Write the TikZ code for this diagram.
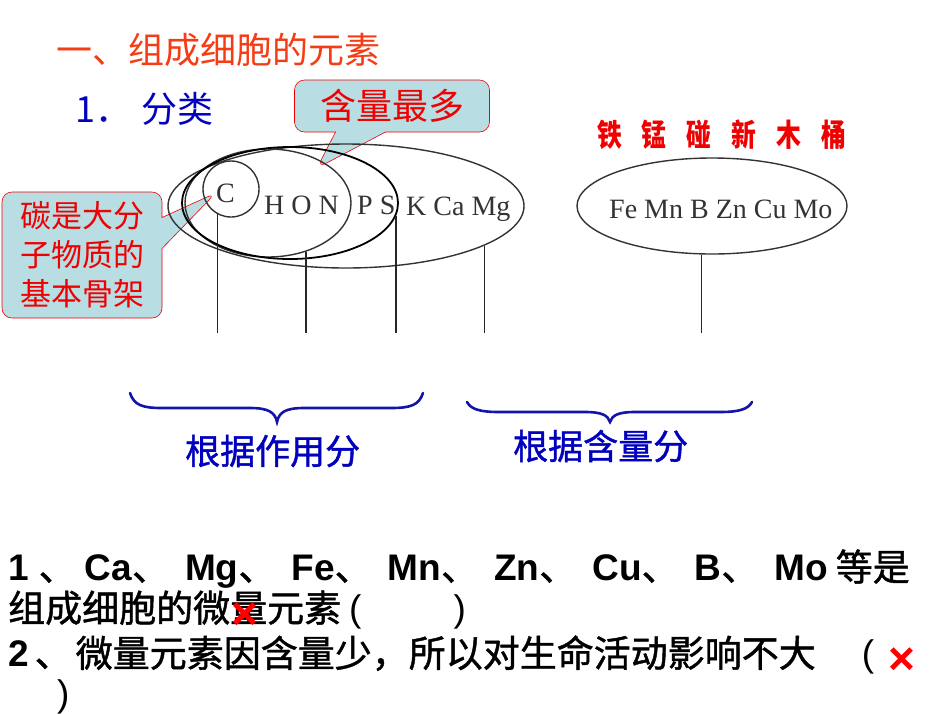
\documentclass[tikz,border=0pt]{standalone}
\usepackage{fontspec}
\setmainfont{Liberation Serif}
\newfontfamily\cjk{Noto Sans CJK SC}
\newfontfamily\cjkh[FakeBold=1.2]{Noto Sans CJK SC}
\newfontfamily\arialf{Liberation Sans}
\usetikzlibrary{shapes.geometric,shapes.callouts,calc}
\definecolor{titleRed}{RGB}{245,60,20}
\definecolor{noteRed}{RGB}{240,0,0}
\definecolor{headBlue}{RGB}{0,0,190}
\definecolor{braceBlue}{RGB}{20,20,170}
\definecolor{tipFill}{RGB}{184,222,228}
\newcommand\fs[2]{\fontsize{#1}{#2}\selectfont}
\newcommand\el[1]{{\arialf\bfseries #1}}
\newcommand\dun{{\cjkh 、}}
\newcommand\gap{\hspace{25pt}}

\begin{document}
\begin{tikzpicture}[x=1pt,y=-1pt,
  ring/.style={ellipse,draw=black!80,line width=1.4pt,inner sep=0pt},
  elt/.style={anchor=base west,inner sep=0pt,text=black!80,font=\fs{28}{28}},
  tip/.style={rectangle callout,fill=tipFill,draw=noteRed,line width=0.6pt,
              rounded corners=10pt,text=noteRed,align=center,inner sep=0pt},
  cn/.style={anchor=west,inner sep=0pt},
  stem/.style={draw=black!85,line width=1.3pt},
  brc/.style={draw=braceBlue,line width=2.6pt,line cap=round},
  cross/.style={inner sep=0pt,text=red,font=\arialf\bfseries\fs{46}{46}}
]
  \useasboundingbox (0,0) rectangle (950,713);
  % headings
  \node[cn,text=titleRed,font=\cjk\fs{36}{36}] (title) at (56,50) {一、组成细胞的元素};
  \node[cn,text=headBlue,font=\cjk\fs{36}{36}] (sub) at (75,109) {1．\hspace{10pt}分类};
  \node[cn,text=noteRed,font=\cjk\bfseries\fs{31}{31}] (mnemo) at (597,135)
    {\scalebox{0.8}[1]{铁\gap 锰\gap 碰\gap 新\gap 木\gap 桶}};
  % callouts
  \node[elt] (eC) at (216,202) {C};
  \coordinate (richPt) at (317,168);
  \node[tip,callout absolute pointer={(eC.west)},callout pointer width=31pt,
        minimum width=160pt,minimum height=126pt,font=\cjk\fs{31}{39}] (noteC) at (82,255)
    {碳是大分\\子物质的\\基本骨架};
  \node[tip,callout absolute pointer={(richPt)},callout pointer width=50pt,
        minimum width=195pt,minimum height=52pt,font=\cjk\fs{36}{36}] (noteMax) at (392,106)
    {含量最多};
  % rings
  \node[ring,minimum width=356pt,minimum height=124pt] (big) at (346,206) {};
  \node[ring,minimum width=166pt,minimum height=108pt] (ellA) at (268,203) {};
  \node[ring,draw=black,line width=1.8pt,minimum width=216pt,minimum height=112pt] (ellB) at (290,203) {};
  \node[ring,circle,minimum size=56pt] (cC) at (231,189) {};
  \node[ring,minimum width=270pt,minimum height=96pt] (trace) at (712,206) {};
  % element symbols
  \node[elt] (eHON) at (264,214) {H O N};
  \node[elt] (ePS) at (357,214) {P S};
  \node[elt] (eKCaMg) at (406,215) {K Ca Mg};
  \node[elt] (eTrace) at (609,218) {Fe Mn B Zn Cu Mo};
  % stems
  \coordinate (foot) at (0,333);
  \draw[stem] (cC.242) -- (cC.242 |- foot);
  \draw[stem] (ellA.-52) -- (ellA.-52 |- foot);
  \draw[stem] (ellB.-7) -- (ellB.-7 |- foot);
  \draw[stem] (big.-16) -- (big.-16 |- foot);
  \draw[stem] (trace.-102) -- (trace.-102 |- foot);
  % braces
  \draw[brc] (130,393) .. controls (134,405) and (142,408) .. (162,408) -- (250,408)
    .. controls (268,408) and (275,412) .. (277,422) .. controls (279,412) and (286,408) .. (304,408)
    -- (391,408) .. controls (411,408) and (419,405) .. (423,393);
  \draw[brc] (467,402) .. controls (471,409) and (479,412) .. (499,412) -- (585,412)
    .. controls (601,412) and (608,415) .. (610,422) .. controls (612,415) and (619,412) .. (635,412)
    -- (720,412) .. controls (740,412) and (748,409) .. (752,402);
  \node[cn,text=headBlue,font=\cjkh\fs{35}{35}] (byRole) at (185,451) {根据作用分};
  \node[cn,text=headBlue,font=\cjkh\fs{35}{35}] (byAmount) at (513,446) {根据含量分};
  % questions
  \node[cn,font=\fs{37}{37}] (q1a) at (8,569)
    {\el{1}\hspace{10pt}\dun\hspace{9pt}\el{Ca}\dun\hspace{16pt}\el{Mg}\dun\hspace{16pt}\el{Fe}\dun\hspace{16pt}\el{Mn}\dun\hspace{16pt}\el{Zn}\dun\hspace{16pt}\el{Cu}\dun\hspace{16pt}\el{B}\dun\hspace{16pt}\el{Mo}\hspace{8pt}{\cjkh 等是}};
  \node[cn,font=\fs{37}{37}] (q1b) at (8,610)
    {{\cjkh 组成细胞的微量元素}\hspace{8pt}{\arialf (}\hspace{92pt}{\arialf )}};
  \node[cross] (x1) at (245,616) {×};
  \node[cn,font=\fs{37}{37}] (q2a) at (8,655)
    {\el{2}\hspace{6pt}\dun\hspace{4pt}{\cjkh 微量元素因含量少，所以对生命活动影响不大}\hspace{46pt}{\arialf (}};
  \node[cross] (x2) at (902,661) {×};
  \node[cn,font=\arialf\fs{37}{37}] (q2b) at (57,697) {)};
\end{tikzpicture}
\end{document}
